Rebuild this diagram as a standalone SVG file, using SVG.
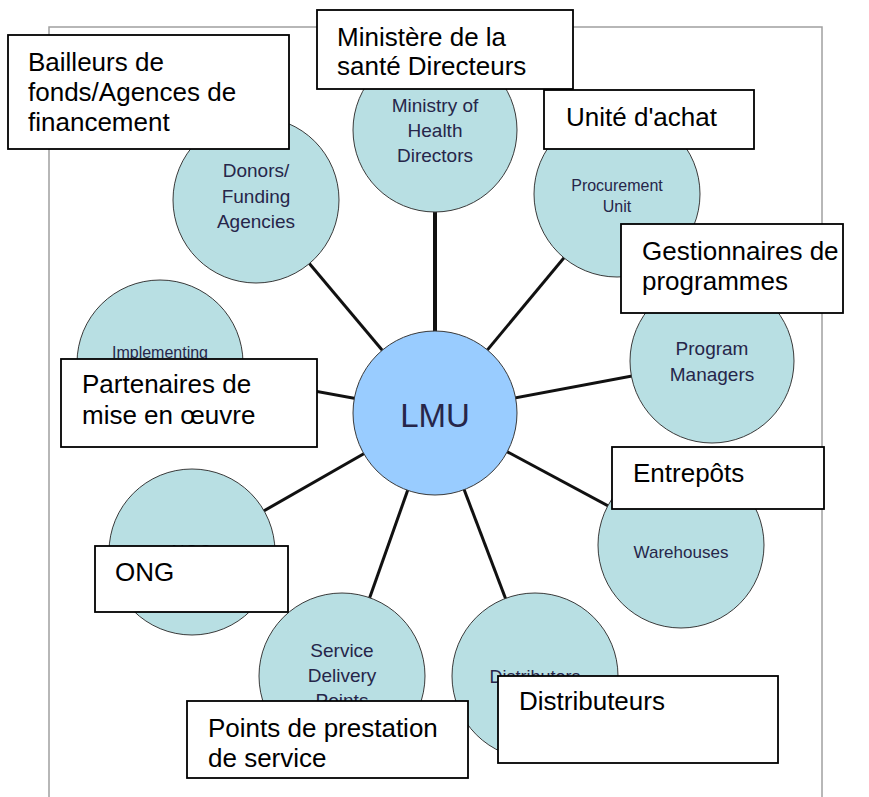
<svg xmlns="http://www.w3.org/2000/svg" width="869" height="797" viewBox="0 0 869 797">
<style>
.frame{fill:none;stroke:#a0a0a0;stroke-width:1.5}
.conn line{stroke:#111;stroke-width:3;stroke-linecap:butt}
.node circle{fill:#b8dfe3;stroke:#3a3a3a;stroke-width:1}
.node text{font-family:"Liberation Sans",Arial,sans-serif;fill:#26264a;text-anchor:middle}
#lmu circle{fill:#99ccff}
.lbl rect{fill:#fff;stroke:#000;stroke-width:1.8}
.lbl text{font-family:"Liberation Sans",Arial,sans-serif;font-size:26px;fill:#000}
</style>
<rect width="869" height="797" fill="#fff"/>
<rect class="frame" x="49" y="27" width="773" height="790"/>
<g id="connectors" class="conn">
<line x1="435" y1="413" x2="435" y2="130" style="stroke-width:4"/>
<line x1="435" y1="413" x2="256" y2="200"/>
<line x1="435" y1="413" x2="617" y2="194"/>
<line x1="435" y1="413" x2="160" y2="363"/>
<line x1="435" y1="413" x2="712" y2="361"/>
<line x1="435" y1="413" x2="192" y2="552"/>
<line x1="435" y1="413" x2="681" y2="545"/>
<line x1="435" y1="413" x2="342" y2="676"/>
<line x1="435" y1="413" x2="535" y2="676"/>
</g>
<g id="ministry" class="node"><circle cx="435" cy="130" r="82"/><text font-size="19"><tspan x="435" y="112">Ministry of</tspan><tspan x="435" y="137">Health</tspan><tspan x="435" y="162">Directors</tspan></text></g>
<g id="donors" class="node"><circle cx="256" cy="200" r="83"/><text font-size="19"><tspan x="256" y="177">Donors/</tspan><tspan x="256" y="203">Funding</tspan><tspan x="256" y="228">Agencies</tspan></text></g>
<g id="procurement" class="node"><circle cx="617" cy="194" r="83"/><text font-size="16"><tspan x="617" y="191">Procurement</tspan><tspan x="617" y="212">Unit</tspan></text></g>
<g id="implementing" class="node"><circle cx="160" cy="363" r="83"/><text x="160" y="358" font-size="16">Implementing</text></g>
<g id="program" class="node"><circle cx="712" cy="361" r="82"/><text font-size="19"><tspan x="712" y="355">Program</tspan><tspan x="712" y="381">Managers</tspan></text></g>
<g id="lmu" class="node"><circle cx="435" cy="413" r="82"/><text x="435" y="427" font-size="33">LMU</text></g>
<g id="ngo" class="node"><circle cx="192" cy="552" r="83"/><text x="192" y="558" font-size="18">NGO</text></g>
<g id="warehouses" class="node"><circle cx="681" cy="545" r="83"/><text x="681" y="558" font-size="17">Warehouses</text></g>
<g id="sdp" class="node"><circle cx="342" cy="676" r="83"/><text font-size="19"><tspan x="342" y="657">Service</tspan><tspan x="342" y="682">Delivery</tspan><tspan x="342" y="707">Points</tspan></text></g>
<g id="distributors" class="node"><circle cx="535" cy="676" r="83"/><text x="535" y="683" font-size="18">Distributors</text></g>
<g id="label-bailleurs" class="lbl"><rect x="8" y="35" width="281" height="114"/><text><tspan x="28" y="71">Bailleurs de</tspan><tspan x="28" y="101">fonds/Agences de</tspan><tspan x="28" y="131">financement</tspan></text></g>
<g id="label-ministere" class="lbl"><rect x="317" y="10" width="256" height="79"/><text><tspan x="337" y="46">Ministère de la</tspan><tspan x="337" y="75">santé Directeurs</tspan></text></g>
<g id="label-unite" class="lbl"><rect x="544" y="90" width="210" height="59"/><text x="566" y="126">Unité d'achat</text></g>
<g id="label-gestionnaires" class="lbl"><rect x="621" y="224" width="222" height="89"/><text><tspan x="642" y="260">Gestionnaires de</tspan><tspan x="642" y="290">programmes</tspan></text></g>
<g id="label-partenaires" class="lbl"><rect x="61" y="359" width="256" height="88"/><text><tspan x="82" y="393">Partenaires de</tspan><tspan x="82" y="424">mise en œuvre</tspan></text></g>
<g id="label-entrepots" class="lbl"><rect x="612" y="447" width="212" height="62"/><text x="633" y="482">Entrepôts</text></g>
<g id="label-ong" class="lbl"><rect x="95" y="546" width="193" height="66"/><text x="115" y="581">ONG</text></g>
<g id="label-points" class="lbl"><rect x="187" y="701" width="281" height="77"/><text><tspan x="208" y="737">Points de prestation</tspan><tspan x="208" y="767">de service</tspan></text></g>
<g id="label-distributeurs" class="lbl"><rect x="498" y="676" width="280" height="87"/><text x="519" y="710">Distributeurs</text></g>
</svg>
